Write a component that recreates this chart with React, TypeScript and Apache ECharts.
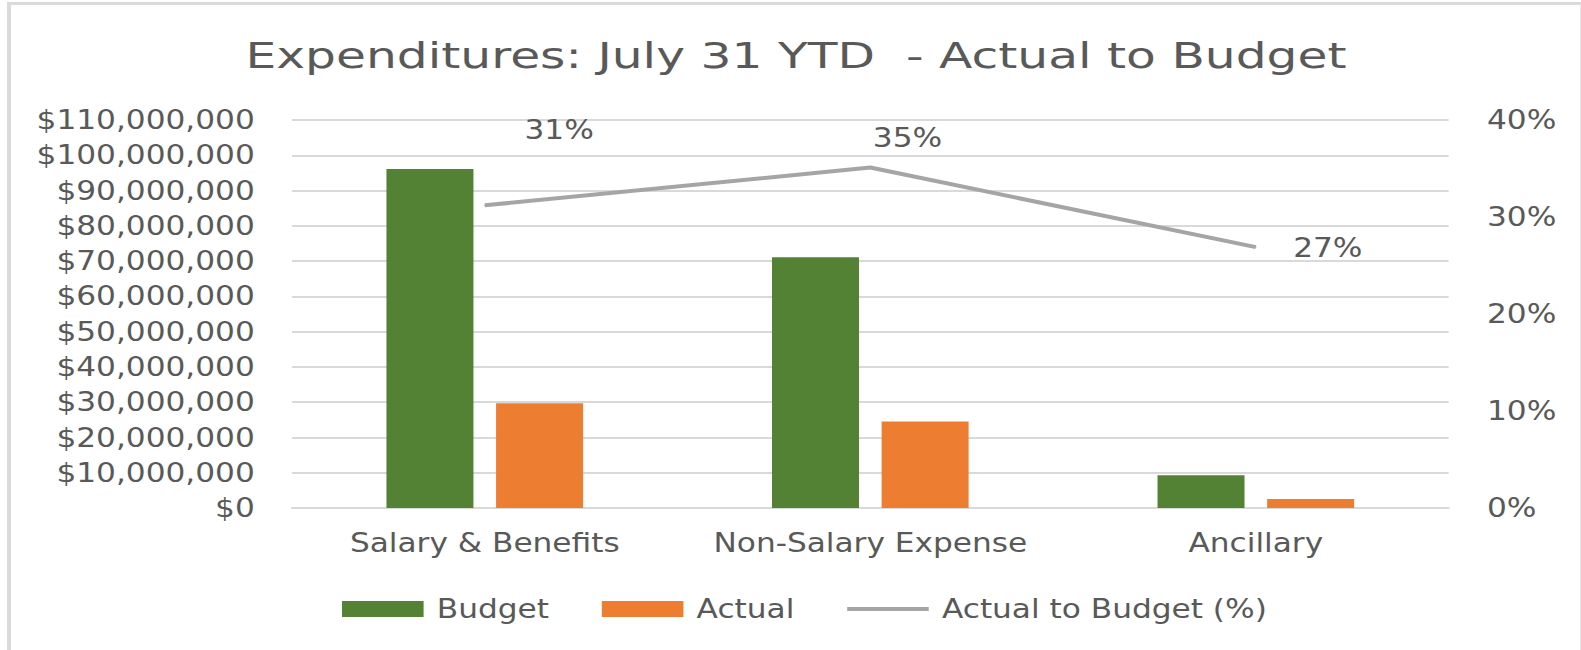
import React, { useEffect, useRef } from "react";
import * as echarts from "echarts";

const categories = ["Salary & Benefits", "Non-Salary Expense", "Ancillary"];
const budget = [96100000, 71100000, 9300000];
const actual = [29700000, 24500000, 2550000];
const pct = [0.312, 0.351, 0.269];
const seriesNames = ["Budget", "Actual", "Actual to Budget (%)"];
const titleText = "Expenditures: July 31 YTD  - Actual to Budget";

const FONT = "DejaVu Sans";
const TXT = "#595959";
const S = 1.2; // horizontal stretch of the reference rendering
const W = 1581 / S;

function fmtMoney(v: number) {
  return "$" + v.toLocaleString("en-US");
}

export default function App() {
  const ref = useRef<HTMLDivElement>(null);
  useEffect(() => {
    if (!ref.current) return;
    const chart = echarts.init(ref.current, null, { renderer: "svg" });
    const labelOffsets: [number, number][] = [
      [62, -75],
      [31, -30],
      [60, 1],
    ];
    chart.setOption({
      animation: false,
      backgroundColor: "transparent",
      graphic: [
        {
          type: "text",
          x: 796 / S,
          y: 56,
          scaleX: 1.16,
          style: {
            text: titleText,
            font: `35px "${FONT}"`,
            fill: TXT,
            align: "center",
            verticalAlign: "middle",
          },
        },
      ],
      grid: { left: 292 / S, right: W - 1448 / S, top: 120, bottom: 142, containLabel: false },
      legend: {
        left: 336 / S,
        top: 591,
        itemWidth: 68,
        itemHeight: 16,
        itemGap: 44,
        symbolKeepAspect: true,
        textStyle: { fontFamily: FONT, fontSize: 26, color: TXT, padding: [0, 0, 0, 6] },
        data: [
          { name: seriesNames[0], icon: "rect" },
          { name: seriesNames[1], icon: "rect" },
          { name: seriesNames[2], icon: "path://M0,0 H88 V5 H0 Z" },
        ],
      },
      xAxis: {
        type: "category",
        data: categories,
        axisLine: { show: true, lineStyle: { color: "#D9D9D9", width: 2 } },
        axisTick: { show: false },
        axisLabel: { fontFamily: FONT, fontSize: 26, color: TXT, margin: 22, interval: 0, hideOverlap: false },
      },
      yAxis: [
        {
          type: "value",
          min: 0,
          max: 110000000,
          interval: 10000000,
          axisLine: { show: false },
          axisTick: { show: false },
          splitLine: { lineStyle: { color: "#D9D9D9", width: 2 } },
          axisLabel: { fontFamily: FONT, fontSize: 26, color: TXT, margin: 31, formatter: fmtMoney },
        },
        {
          type: "value",
          min: 0,
          max: 0.4,
          interval: 0.1,
          position: "right",
          axisLine: { show: false },
          axisTick: { show: false },
          splitLine: { show: false },
          axisLabel: {
            fontFamily: FONT,
            fontSize: 26,
            color: TXT,
            margin: 32,
            formatter: (v: number) => Math.round(v * 100) + "%",
          },
        },
      ],
      series: [
        {
          name: seriesNames[0],
          type: "bar",
          data: budget,
          barWidth: 87 / S,
          barGap: "26%",
          itemStyle: { color: "#548235" },
        },
        {
          name: seriesNames[1],
          type: "bar",
          data: actual,
          barWidth: 87 / S,
          itemStyle: { color: "#ED7D31" },
        },
        {
          name: seriesNames[2],
          type: "line",
          yAxisIndex: 1,
          data: pct.map((v, i) => ({
            value: v,
            label: { offset: labelOffsets[i] },
          })),
          symbol: "circle",
          symbolSize: 1,
          showSymbol: true,
          itemStyle: { color: "#A5A5A5" },
          lineStyle: { color: "#A5A5A5", width: 4 },
          label: {
            show: true,
            position: "inside",
            fontFamily: FONT,
            fontSize: 26,
            color: TXT,
            formatter: (p: any) => Math.round(p.value * 100) + "%",
          },
        },
      ],
    });
    return () => chart.dispose();
  }, []);
  return (
    <div style={{ position: "absolute", left: 0, top: 0, width: 1581, height: 650, background: "#fff", overflow: "hidden" }}>
      <div
        style={{
          position: "absolute",
          left: 7,
          top: 2,
          width: 1569,
          height: 660,
          borderTop: "3px solid #DADADA",
          borderLeft: "4px solid #DADADA",
          borderRight: "1px solid #E6E6E6",
        }}
      />
      <div
        ref={ref}
        style={{
          position: "absolute",
          left: 0,
          top: 0,
          width: W,
          height: 650,
          transform: `scaleX(${S})`,
          transformOrigin: "0 0",
        }}
      />
    </div>
  );
}
